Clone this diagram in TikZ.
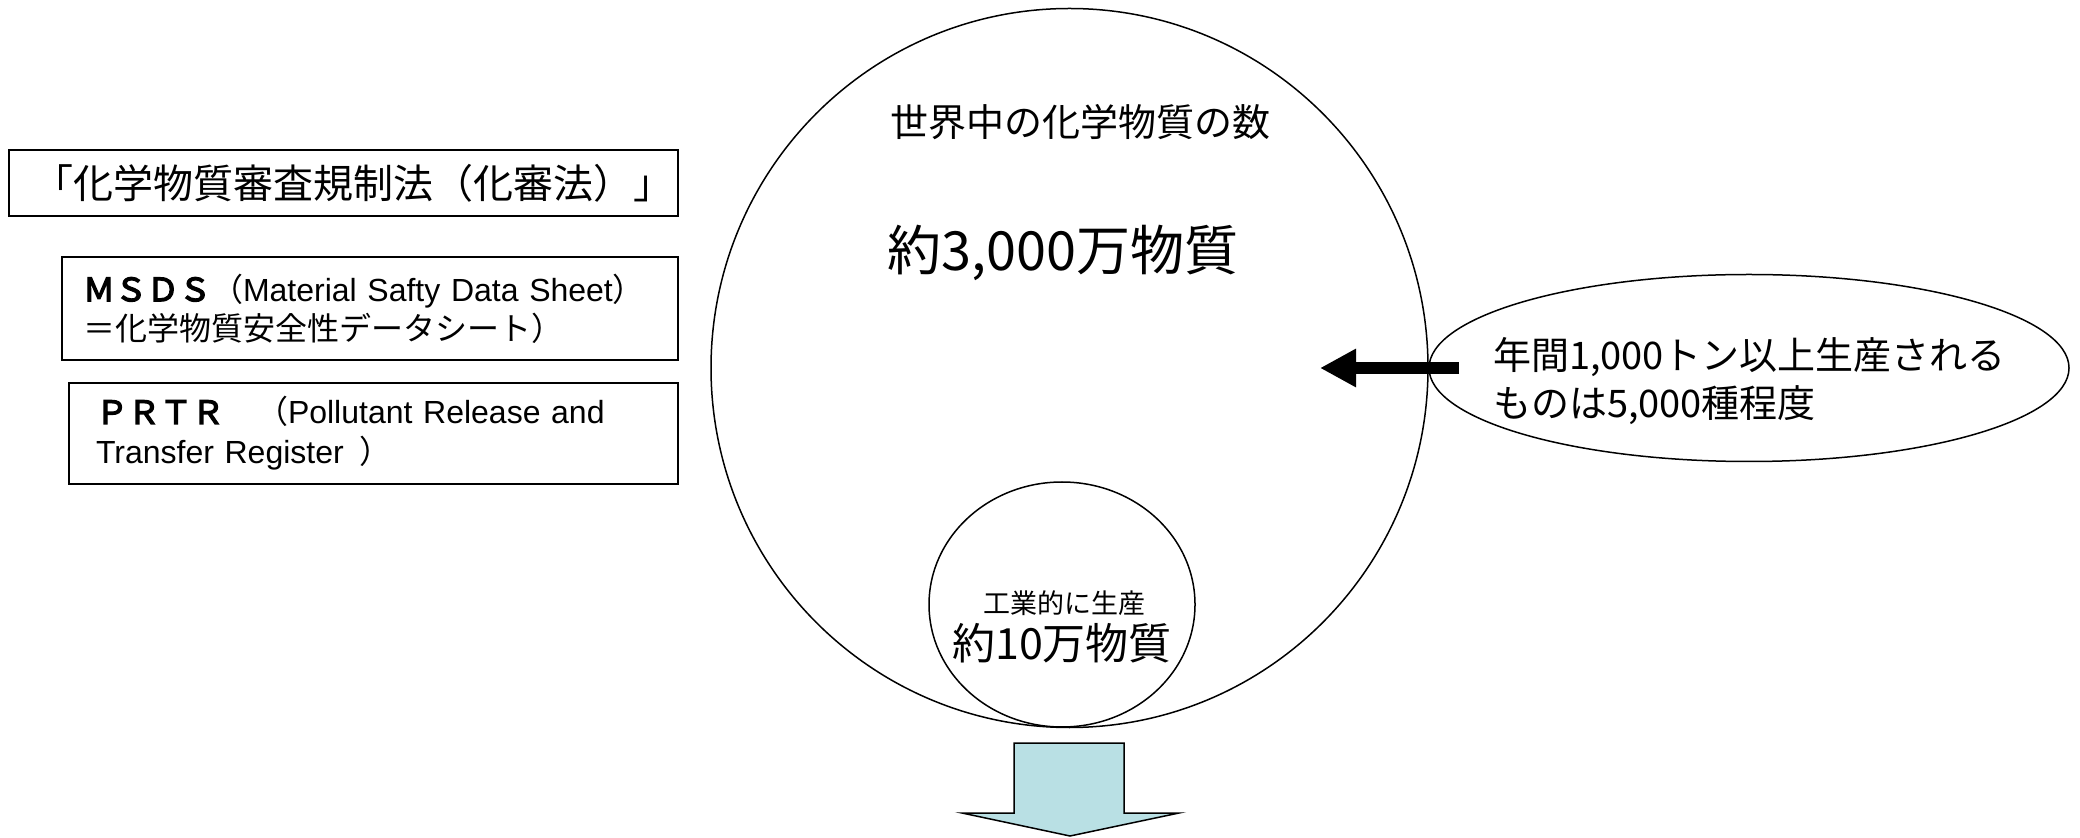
\documentclass[tikz,border=0pt]{standalone}
\usepackage{fontspec}
\setmainfont{Noto Sans CJK JP}
\newfontfamily\boldjp[FakeBold=4]{Noto Sans CJK JP}
\newfontfamily\latinfont{Liberation Sans}
\usetikzlibrary{shapes.geometric,arrows.meta}
\definecolor{arrowblue}{RGB}{185,224,228}
\tikzset{
  outline/.style={draw=black, line width=0.75pt, inner sep=0pt, outer sep=0pt},
  blob/.style={outline, ellipse},
  infobox/.style={outline, rectangle, anchor=north west, align=left, inner ysep=0pt},
  txt/.style={inner sep=0pt, outer sep=0pt},
  bigarrow/.style={line width=6pt, -{Triangle[length=18pt,width=18pt]}},
  downarrow/.style={draw=black, line width=0.75pt, fill=arrowblue, line join=miter},
}
\begin{document}
\begin{tikzpicture}[x=0.5pt,y=-0.5pt]
\useasboundingbox (0,0) rectangle (2080,838);

% big circle and its texts
\node[blob, minimum width=358.5pt, minimum height=359.5pt] (world) at (1069.5,368) {};
\node[txt, font=\fontsize{19pt}{22pt}\selectfont] (worldtitle) at (1080,122) {世界中の化学物質の数};
\node[txt, font=\fontsize{27pt}{30pt}\selectfont] (worldcount) at (1063,253) {約3,000万物質};

% small circle
\node[blob, minimum width=133pt, minimum height=122.5pt] (industry) at (1062,604.5) {};
\node[txt, font=\fontsize{13.5pt}{16pt}\selectfont] (industrytitle) at (1064,603) {工業的に生産};
\node[txt, font=\fontsize{21.5pt}{24pt}\selectfont] (industrycount) at (1062,643) {約10万物質};

% right ellipse
\node[blob, minimum width=320pt, minimum height=93.5pt] (tons) at (1749,368) {};
\node[txt, anchor=west, align=left, font=\fontsize{19pt}{24pt}\selectfont] (tonstext) at (1493,381)
  {年間1,000トン以上生産される\\ものは5,000種程度};

% black arrow
\coordinate (tail) at ([xshift=15pt]tons.west);
\coordinate (tip) at ([xshift=-54.5pt]tons.west);
\draw[bigarrow] (tail) -- (tip);

% down arrow
\draw[downarrow] (1014,743) -- (1124,743) -- (1124,813) -- (1179,813) -- (1070,836)
  -- (962,813) -- (1014,813) -- cycle;

% left boxes
\node[infobox, minimum width=334.5pt, minimum height=33pt, inner xsep=12pt, text width=310.5pt,
  font=\fontsize{20pt}{24pt}\selectfont] (law) at (9,150) {「化学物質審査規制法（化審法）」};
\node[infobox, minimum width=308pt, minimum height=51.5pt, inner xsep=10.5pt, text width=287pt,
  font=\fontsize{16pt}{19.5pt}\selectfont] (msds) at (62,257)
  {{\boldjp ＭＳＤＳ}（{\latinfont Material Safty Data Sheet}）\\＝化学物質安全性データシート）};
\node[infobox, minimum width=304.5pt, minimum height=50.5pt, inner xsep=13.5pt, text width=277.5pt,
  font=\fontsize{16pt}{20pt}\selectfont] (prtr) at (69,383)
  {{\boldjp ＰＲＴＲ}　（{\latinfont Pollutant Release and}\\{\latinfont Transfer Register}\hspace{0.5em}）};
\end{tikzpicture}
\end{document}
